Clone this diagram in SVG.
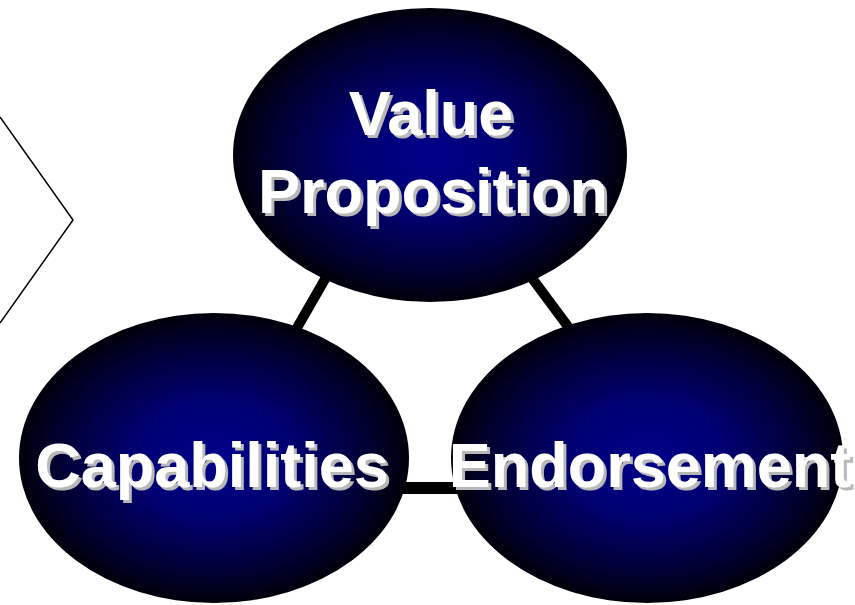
<svg xmlns="http://www.w3.org/2000/svg" width="855" height="605" viewBox="0 0 855 605">
<defs>
<radialGradient id="glow" cx="50%" cy="50%" r="50%">
<stop offset="0" stop-color="#00008a"/>
<stop offset="0.4" stop-color="#000072"/>
<stop offset="0.8" stop-color="#000032"/>
<stop offset="1" stop-color="#00000a"/>
</radialGradient>
<filter id="shadow" x="-5%" y="-10%" width="115%" height="130%">
<feOffset in="SourceAlpha" dx="3" dy="3" result="off"/>
<feFlood flood-color="#b8b8b8"/>
<feComposite in2="off" operator="in" result="sh"/>
<feMerge><feMergeNode in="sh"/><feMergeNode in="SourceGraphic"/></feMerge>
</filter>
</defs>
<style>
.node ellipse{fill:url(#glow);}
.lbl{font-family:"Liberation Sans",Arial,sans-serif;font-weight:bold;font-size:63px;text-anchor:middle;fill:#fff;filter:url(#shadow);}
.conn line{stroke:#000;stroke-width:10;}
</style>
<rect width="855" height="605" fill="#fff"/>
<g id="chevron">
<polyline points="0,117 73,220 0,323" fill="none" stroke="#000" stroke-width="1.5"/>
</g>
<g id="connectors" class="conn">
<line x1="340" y1="253" x2="290" y2="340"/>
<line x1="520" y1="262" x2="578" y2="340"/>
<line x1="380" y1="488" x2="480" y2="488" style="stroke-width:12"/>
</g>
<g id="value-proposition" class="node">
<ellipse cx="430" cy="155" rx="197" ry="147"/>
<text class="lbl" x="431" y="135">Value</text>
<text class="lbl" x="433" y="213">Proposition</text>
</g>
<g id="capabilities" class="node">
<ellipse cx="214" cy="458" rx="195" ry="145"/>
<text class="lbl" x="212" y="487">Capabilities</text>
</g>
<g id="endorsement" class="node">
<ellipse cx="647" cy="458" rx="196" ry="145"/>
<text class="lbl" x="650" y="487">Endorsement</text>
</g>
</svg>
